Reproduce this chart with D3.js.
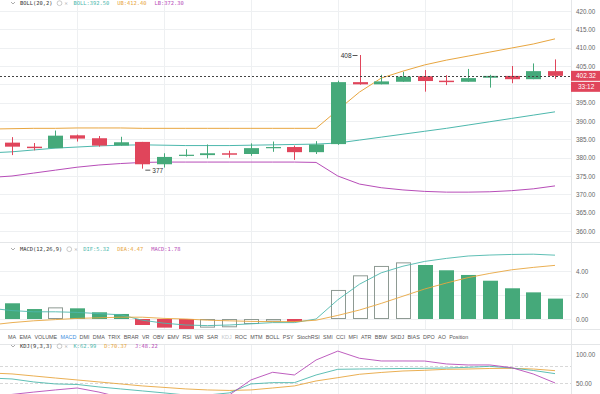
<!DOCTYPE html>
<html>
<head>
<meta charset="utf-8">
<script src="https://cdn.jsdelivr.net/npm/d3@7/dist/d3.min.js"></script>
<style>
  body { margin: 0; background: #fff; }
  svg { display: block; font-family: 'Liberation Sans', Arial, sans-serif; }
  .mono { font-family: 'DejaVu Sans Mono', monospace; }
</style>
</head>
<body>
<div id="chart"></div>
<script>
let width = 600
let height = 394

// candles (index 0..25)
let opens  = [384.1, 383.0, 382.6, 386.1, 385.3, 383.3, 384.3, 378.2, 380.5, 380.7, 381.2, 381.0, 382.7, 382.9, 381.5, 383.7, 400.6, 400.0, 400.7, 402.2, 401.0, 400.7, 401.8, 402.3, 401.4, 403.6]
let closes = [383.0, 382.6, 386.0, 385.2, 383.3, 384.2, 378.2, 380.2, 380.8, 381.2, 380.8, 382.6, 382.9, 381.5, 383.6, 400.6, 400.0, 400.8, 402.1, 400.9, 400.6, 401.7, 402.3, 401.4, 403.6, 402.32]
let highs  = [385.6, 384.0, 387.4, 386.3, 385.9, 385.7, 384.3, 381.2, 382.3, 383.6, 381.9, 383.9, 384.4, 383.3, 384.5, 401.0, 408.0, 402.6, 403.4, 403.9, 402.5, 404.2, 402.6, 405.0, 405.7, 406.8]
let lows   = [380.7, 382.0, 382.6, 384.4, 383.0, 383.3, 377.0, 377.3, 380.3, 379.8, 380.0, 380.5, 381.6, 379.4, 381.0, 383.5, 399.9, 400.0, 400.7, 398.0, 399.8, 400.7, 399.1, 400.3, 401.4, 401.5]

// indicator lines start one period earlier (index -1..25)
let bollUp  = [387.8, 387.9, 388.0, 388.0, 388.1, 388.1, 388.1, 388.0, 388.0, 388.0, 388.0, 388.0, 388.0, 388.0, 388.0, 388.0, 393.0, 397.9, 401.7, 403.6, 405.3, 406.6, 407.7, 408.8, 409.9, 411.0, 412.4]
let bollMid = [381.3, 381.6, 382.1, 382.6, 382.9, 383.2, 383.4, 383.5, 383.4, 383.3, 383.3, 383.3, 383.4, 383.5, 383.6, 383.7, 384.0, 384.8, 385.6, 386.4, 387.2, 388.0, 388.9, 389.8, 390.7, 391.6, 392.5]
let bollLow = [374.6, 375.0, 375.8, 376.6, 377.4, 378.0, 378.4, 378.7, 378.8, 378.8, 378.8, 378.8, 378.8, 378.8, 378.8, 378.7, 375.0, 372.8, 371.8, 371.2, 370.8, 370.6, 370.6, 370.7, 371.0, 371.5, 372.3]

let macdHist = [1.31, 0.83, 0.97, 0.89, 0.56, 0.42, -0.5, -0.72, -0.83, -0.72, -0.69, -0.42, -0.22, -0.25, 0.05, 2.42, 3.64, 4.42, 4.72, 4.5, 4.06, 3.67, 3.19, 2.56, 2.22, 1.7]
let dif = [0.9, 0.7, 0.6, 0.6, 0.55, 0.45, 0.35, -0.1, -0.35, -0.5, -0.55, -0.5, -0.4, -0.3, -0.3, 0.0, 1.6, 2.9, 3.85, 4.4, 4.8, 5.05, 5.25, 5.33, 5.38, 5.4, 5.32]
let dea = [-0.5, -0.3, -0.15, -0.05, 0.05, 0.1, 0.15, 0.15, 0.05, 0.0, -0.1, -0.15, -0.2, -0.22, -0.22, -0.1, 0.3, 0.75, 1.3, 1.9, 2.5, 3.0, 3.45, 3.8, 4.1, 4.3, 4.47]

let kdjK = [59, 57.4, 52.3, 48.9, 48, 43.8, 40.4, 37, 33.6, 30, 30, 33.6, 48.9, 51.1, 51.1, 64.2, 73.9, 74.4, 74.8, 75.3, 75.6, 76.1, 77.3, 79.0, 76.1, 71.9, 66.5]
let kdjD = [67.6, 66, 62.5, 59, 55.7, 52.3, 48.9, 45.5, 43, 40.4, 38.7, 37.8, 38.7, 42, 45.5, 54, 59.6, 65.4, 68.5, 71, 72.2, 73.9, 74.4, 75.3, 75.6, 74.4, 71.6]
let kdjJ = [28, 31, 35, 38.7, 42, 35, 26, 18, 12, 10, 15, 30, 55.7, 68.8, 64.2, 89.8, 105, 92.7, 88.1, 88.1, 88, 83, 81.3, 81.3, 76.7, 65.9, 50.6]

let priceTicks = [360, 365, 370, 375, 380, 385, 390, 395, 400, 405, 410, 415, 420]
let macdTicks = [0, 2, 4]
let kdjTicks = [50, 100]
let kdjDashed = [20, 50, 80]
let tabs = ['MA','EMA','VOLUME','MACD','DMI','DMA','TRIX','BRAR','VR','OBV','EMV','RSI','WR','SAR','KDJ','ROC','MTM','BOLL','PSY','StochRSI','SMI','CCI','MFI','ATR','BBW','SKDJ','BIAS','DPO','AO','Position']
let gridIdx = [3, 7, 11, 15, 19, 23]

let lastPrice = 402.32
let countdown = '33:12'

let green = '#45a97a'
let red = '#e0455b'
let cTeal = '#4db8ad'
let cGold = '#e8a640'
let cPurple = '#b74db8'

let plotRight = 571

let panes = {
	main : {top: 0, bottom: 242},
	macd : {top: 242, bottom: 329},
	tab : {top: 329, bottom: 344},
	kdj : {top: 344, bottom: 394},
}

let xScale = d3.scaleLinear()
	.domain([0, 25])
	.range([12, 555])

let yPrice = d3.scaleLinear().domain([360, 420]).range([231, 11])
let yMacd = d3.scaleLinear().domain([0, 4]).range([319, 271])
let yKdj = d3.scaleLinear().domain([50, 100]).range([383.3, 354])

let svg = d3.select('#chart').append('svg')
	.attr('width', width)
	.attr('height', height)

let defs = svg.append('defs')
Object.keys(panes).forEach((k) => {
	defs.append('clipPath').attr('id', 'clip-' + k)
		.append('rect')
		.attr('x', 0).attr('y', panes[k].top)
		.attr('width', plotRight).attr('height', panes[k].bottom - panes[k].top)
})

// vertical grid
let grid = svg.append('g')
grid.selectAll('line.v')
	.data(gridIdx)
	.enter()
	.append('line')
	.attr('x1', (d) => Math.round(xScale(d)) + 0.5)
	.attr('x2', (d) => Math.round(xScale(d)) + 0.5)
	.attr('y1', 0)
	.attr('y2', height)
	.attr('stroke', '#eef0f2')

// horizontal grid
function hGrid(scale, ticks, dashed) {
	grid.selectAll(null)
		.data(ticks)
		.enter()
		.append('line')
		.attr('x1', 0)
		.attr('x2', plotRight)
		.attr('y1', (d) => Math.round(scale(d)) + 0.5)
		.attr('y2', (d) => Math.round(scale(d)) + 0.5)
		.attr('stroke', dashed ? '#d8d8d8' : '#eef0f2')
		.attr('stroke-dasharray', dashed ? '3,2' : null)
}
hGrid(yPrice, priceTicks, false)
hGrid(yMacd, macdTicks, false)
hGrid(yKdj, kdjDashed, true)

// pane separators
let seps = svg.append('g')
seps.append('line').attr('x1', plotRight + 0.5).attr('x2', plotRight + 0.5).attr('y1', 0).attr('y2', height).attr('stroke', '#e4e6e8')
;[242, 329, 344].forEach((y) => {
	seps.append('line').attr('x1', 0).attr('x2', width).attr('y1', y + 0.5).attr('y2', y + 0.5).attr('stroke', '#e4e6e8')
})
svg.append('rect').attr('x', 0).attr('y', 330).attr('width', plotRight).attr('height', 14).attr('fill', '#fff')

// ---- main pane
let main = svg.append('g').attr('clip-path', 'url(#clip-main)')
let lineIdx = (i) => xScale(i - 1)

let lineGen = (scale) => d3.line()
	.x((d, i) => lineIdx(i))
	.y((d) => scale(d))

;[[bollUp, cGold], [bollMid, cTeal], [bollLow, cPurple]].forEach((s) => {
	main.append('path')
		.datum(s[0])
		.attr('d', lineGen(yPrice))
		.attr('fill', 'none')
		.attr('stroke', s[1])
		.attr('stroke-width', 1)
})

let candles = opens.map((o, i) => ({i: i, o: o, c: closes[i], h: highs[i], l: lows[i]}))
let cg = main.selectAll('g.candle')
	.data(candles)
	.enter()
	.append('g')
	.attr('class', 'candle')
cg.append('line')
	.attr('x1', (d) => Math.round(xScale(d.i)) + 0.5)
	.attr('x2', (d) => Math.round(xScale(d.i)) + 0.5)
	.attr('y1', (d) => yPrice(d.h))
	.attr('y2', (d) => yPrice(d.l))
	.attr('stroke', (d) => d.c >= d.o ? green : red)
cg.append('rect')
	.attr('x', (d) => Math.round(xScale(d.i)) - 7)
	.attr('width', 15)
	.attr('y', (d) => yPrice(Math.max(d.o, d.c)))
	.attr('height', (d) => Math.max(1.2, Math.abs(yPrice(d.o) - yPrice(d.c))))
	.attr('fill', (d) => d.c >= d.o ? green : red)

// high / low marks
let hiI = highs.indexOf(d3.max(highs))
let loI = lows.indexOf(d3.min(lows))
main.append('line')
	.attr('x1', xScale(hiI) - 7).attr('x2', xScale(hiI) - 2)
	.attr('y1', yPrice(highs[hiI]) + 0.5).attr('y2', yPrice(highs[hiI]) + 0.5)
	.attr('stroke', '#555')
main.append('text')
	.attr('x', xScale(hiI) - 8).attr('y', yPrice(highs[hiI]) + 2.5)
	.attr('text-anchor', 'end').attr('font-size', 6.5).attr('fill', '#333')
	.text(d3.max(highs))
main.append('line')
	.attr('x1', xScale(loI) + 3).attr('x2', xScale(loI) + 8)
	.attr('y1', yPrice(lows[loI]) + 1.5).attr('y2', yPrice(lows[loI]) + 1.5)
	.attr('stroke', '#555')
main.append('text')
	.attr('x', xScale(loI) + 10).attr('y', yPrice(lows[loI]) + 4)
	.attr('font-size', 6.5).attr('fill', '#333')
	.text(d3.min(lows))

// last price dashed line
svg.append('line')
	.attr('x1', 0).attr('x2', plotRight)
	.attr('y1', Math.round(yPrice(lastPrice)) + 0.5).attr('y2', Math.round(yPrice(lastPrice)) + 0.5)
	.attr('stroke', '#444').attr('stroke-dasharray', '2,2')

// ---- MACD pane
let macdG = svg.append('g').attr('clip-path', 'url(#clip-macd)')
macdG.selectAll('rect')
	.data(macdHist)
	.enter()
	.append('rect')
	.each(function (d, i) {
		let prev = i > 0 ? macdHist[i - 1] : d
		let hollow = d > prev
		let col = d >= 0 ? green : red
		let y0 = yMacd(Math.max(d, 0))
		let h = Math.max(1, Math.abs(yMacd(d) - yMacd(0)))
		d3.select(this)
			.attr('x', Math.round(xScale(i)) - 7 + (hollow ? 0.5 : 0))
			.attr('width', hollow ? 14 : 15)
			.attr('y', y0 + (hollow ? 0.5 : 0))
			.attr('height', hollow ? h - 1 : h)
			.attr('fill', hollow ? 'none' : col)
			.attr('stroke', hollow ? '#8e9a93' : 'none')
	})
;[[dif, cTeal], [dea, cGold]].forEach((s) => {
	macdG.append('path')
		.datum(s[0])
		.attr('d', lineGen(yMacd))
		.attr('fill', 'none')
		.attr('stroke', s[1])
		.attr('stroke-width', 0.9)
})

// ---- KDJ pane
let kdjG = svg.append('g').attr('clip-path', 'url(#clip-kdj)')
;[[kdjD, cGold], [kdjK, cTeal], [kdjJ, cPurple]].forEach((s) => {
	kdjG.append('path')
		.datum(s[0])
		.attr('d', lineGen(yKdj))
		.attr('fill', 'none')
		.attr('stroke', s[1])
		.attr('stroke-width', 0.9)
})

// ---- right axes
let py = yPrice(lastPrice)

function rightAxis(scale, ticks, skip) {
	let ax = d3.axisRight(scale)
		.tickValues(ticks.filter((t) => !skip || Math.abs(scale(t) - (py + 5)) > 13))
		.tickSize(0)
		.tickPadding(5)
		.tickFormat(d3.format('.2f'))
	let g = svg.append('g')
		.attr('transform', `translate(${plotRight},0)`)
		.call(ax)
	g.select('.domain').remove()
	g.selectAll('text')
		.attr('font-family', "'Liberation Sans', Arial, sans-serif")
		.attr('font-size', 6.3)
		.attr('fill', '#666')
}
rightAxis(yPrice, priceTicks, true)
rightAxis(yMacd, macdTicks)
rightAxis(yKdj, kdjTicks)

// price labels
let tagG = svg.append('g')
tagG.append('rect').attr('x', plotRight).attr('y', py - 5).attr('width', 29).attr('height', 10).attr('fill', red)
tagG.append('text').attr('x', plotRight + 5).attr('y', py + 2.3).attr('font-size', 6.5).attr('fill', '#fff').text(lastPrice.toFixed(2))
tagG.append('rect').attr('x', plotRight).attr('y', py + 6).attr('width', 29).attr('height', 10).attr('fill', red)
tagG.append('text').attr('x', plotRight + 7).attr('y', py + 13.3).attr('font-size', 6.5).attr('fill', '#fff').text(countdown)

// ---- headers
function header(y, title, items) {
	let g = svg.append('g').attr('class', 'mono').attr('font-size', 5.4)
	g.append('path')
		.attr('d', `M11,${y - 3} L13,${y - 1} L15,${y - 3}`)
		.attr('fill', 'none').attr('stroke', '#888').attr('stroke-width', 0.7)
	g.append('text').attr('x', 20).attr('y', y).attr('fill', '#333').text(title)
	let tx = 20 + title.length * 3.25 + 5
	g.append('circle').attr('cx', tx + 2).attr('cy', y - 1.8).attr('r', 2.4)
		.attr('fill', 'none').attr('stroke', '#aaa').attr('stroke-width', 0.6)
	g.append('text').attr('x', tx + 7).attr('y', y).attr('fill', '#aaa').text('✕')
	let x = tx + 16
	items.forEach((it) => {
		g.append('text').attr('x', x).attr('y', y).attr('fill', it[1]).text(it[0])
		x += it[0].length * 3.25 + 8
	})
}
header(5, 'BOLL(20,2)', [['BOLL:' + bollMid[bollMid.length - 1].toFixed(2), cTeal], ['UB:' + bollUp[bollUp.length - 1].toFixed(2), cGold], ['LB:' + bollLow[bollLow.length - 1].toFixed(2), cPurple]])
header(251, 'MACD(12,26,9)', [['DIF:' + dif[dif.length - 1].toFixed(2), cTeal], ['DEA:' + dea[dea.length - 1].toFixed(2), cGold], ['MACD:1.78', cPurple]])
header(348, 'KDJ(9,3,3)', [['K:62.99', cTeal], ['D:70.37', cGold], ['J:48.22', cPurple]])

// ---- indicator tab bar
let tabG = svg.append('g').attr('font-size', 5.4)
let tx = 8
tabs.forEach((t) => {
	let col = t === 'MACD' ? '#3d8ee0' : (t === 'KDJ' ? '#c4c8cc' : '#555')
	let el = tabG.append('text').attr('x', tx).attr('y', 338.5).attr('fill', col).text(t)
	tx += el.node().getComputedTextLength() + 3.3
})
</script>
</body>
</html>
